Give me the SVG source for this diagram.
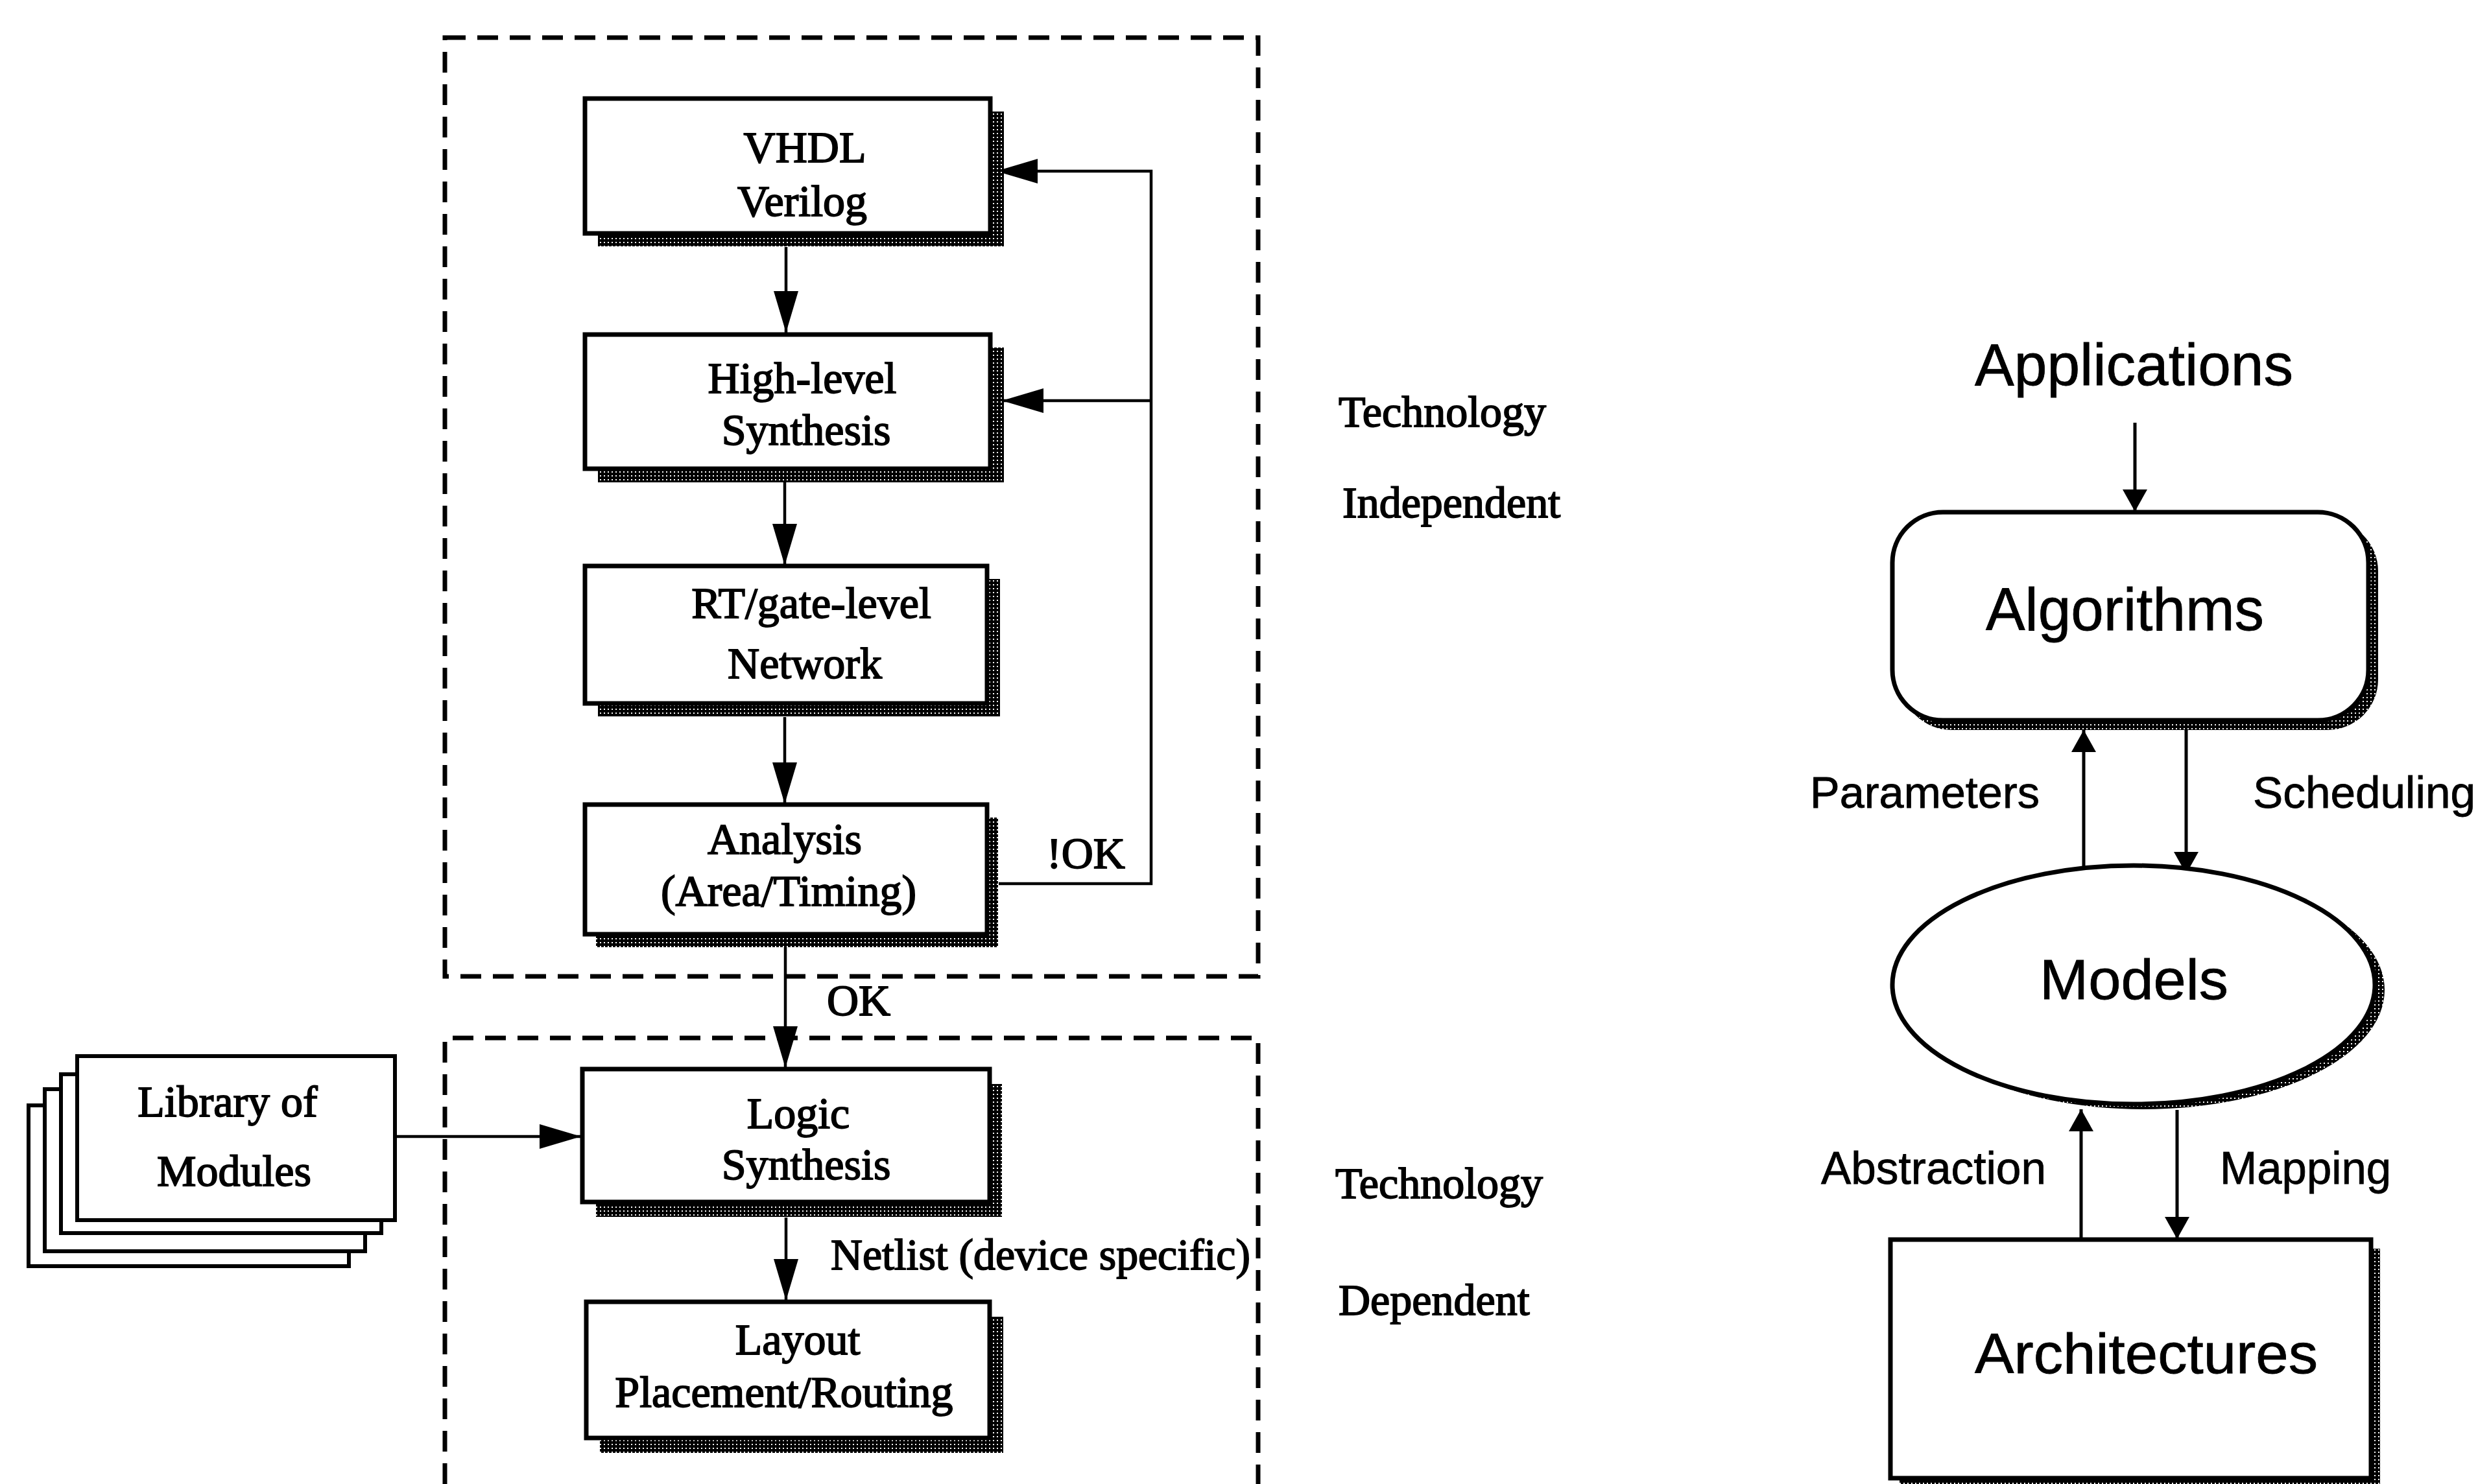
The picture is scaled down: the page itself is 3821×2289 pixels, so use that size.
<svg xmlns="http://www.w3.org/2000/svg" width="3821" height="2289" viewBox="0 0 3821 2289">
<style>
.bg{fill:#fff}
.box{fill:#fff;stroke:#000;stroke-width:7}
.shadow{fill:url(#chk)}
.dash{fill:none;stroke:#000;stroke-width:7;stroke-dasharray:32 18}
.con{fill:none;stroke:#000;stroke-width:4.5}
.rcon{fill:none;stroke:#000;stroke-width:5}
.serif{font-family:"Liberation Serif","Times New Roman",serif;font-size:68px;fill:#000;stroke:#000;stroke-width:1.8}
.sans{font-family:"Liberation Sans",Arial,sans-serif;fill:#000;stroke:#000;stroke-width:0.8}
.mid{text-anchor:middle}
</style>
<defs>
<pattern id="chk" width="6" height="6" patternUnits="userSpaceOnUse">
<rect width="6" height="6" fill="#000"/>
<rect x="1" y="1" width="2" height="2" fill="#fff"/>
</pattern>
<marker id="arrL" markerUnits="userSpaceOnUse" markerWidth="66" markerHeight="40" refX="64" refY="20" orient="auto">
<path d="M0,1 L64,20 L0,39 z" fill="#000"/>
</marker>
<marker id="arrR" markerUnits="userSpaceOnUse" markerWidth="36" markerHeight="40" refX="34" refY="20" orient="auto">
<path d="M0,1 L34,20 L0,39 z" fill="#000"/>
</marker>
</defs>
<rect class="bg" x="0" y="0" width="3821" height="2289"/>

<g id="region-independent">
<rect class="dash" x="686" y="58" width="1254" height="1448"/>
</g>
<g id="region-dependent">
<path class="dash" d="M686,2289 V1601 H1940 V2289"/>
</g>

<g id="connectors">
<line class="con" x1="1212" y1="381" x2="1212" y2="513" marker-end="url(#arrL)"/>
<line class="con" x1="1210" y1="744" x2="1210" y2="872" marker-end="url(#arrL)"/>
<line class="con" x1="1210" y1="1106" x2="1210" y2="1240" marker-end="url(#arrL)"/>
<line class="con" x1="1211" y1="1460" x2="1211" y2="1647" marker-end="url(#arrL)"/>
<line class="con" x1="1212" y1="1878" x2="1212" y2="2006" marker-end="url(#arrL)"/>
<line class="con" x1="609" y1="1753" x2="896" y2="1753" marker-end="url(#arrL)"/>
<polyline class="con" points="1540,1363 1775,1363 1775,264 1536,264" marker-end="url(#arrL)"/>
<line class="con" x1="1775" y1="618" x2="1545" y2="618" marker-end="url(#arrL)"/>
<line class="rcon" x1="3292" y1="652" x2="3292" y2="789" marker-end="url(#arrR)"/>
<line class="rcon" x1="3213" y1="1345" x2="3213" y2="1126" marker-end="url(#arrR)"/>
<line class="rcon" x1="3371" y1="1126" x2="3371" y2="1348" marker-end="url(#arrR)"/>
<line class="rcon" x1="3209" y1="1912" x2="3209" y2="1711" marker-end="url(#arrR)"/>
<line class="rcon" x1="3357" y1="1712" x2="3357" y2="1911" marker-end="url(#arrR)"/>
</g>

<g id="node-vhdl">
<rect class="shadow" x="922" y="172" width="626" height="208"/>
<rect class="box" x="902" y="152" width="625" height="208"/>
<text class="serif mid" x="1241" y="250">VHDL</text>
<text class="serif mid" x="1237" y="333">Verilog</text>
</g>
<g id="node-highlevel">
<rect class="shadow" x="922" y="536" width="626" height="208"/>
<rect class="box" x="902" y="516" width="625" height="207"/>
<text class="serif mid" x="1237" y="606">High-level</text>
<text class="serif mid" x="1243" y="686">Synthesis</text>
</g>
<g id="node-rtgate">
<rect class="shadow" x="922" y="893" width="620" height="212"/>
<rect class="box" x="902" y="873" width="620" height="212"/>
<text class="serif mid" x="1251" y="953">RT/gate-level</text>
<text class="serif mid" x="1241" y="1046">Network</text>
</g>
<g id="node-analysis">
<rect class="shadow" x="919" y="1261" width="620" height="200"/>
<rect class="box" x="902" y="1241" width="620" height="200"/>
<text class="serif mid" x="1210" y="1317">Analysis</text>
<text class="serif mid" x="1216" y="1397">(Area/Timing)</text>
</g>
<g id="node-logic">
<rect class="shadow" x="919" y="1672" width="626" height="205"/>
<rect class="box" x="898" y="1649" width="628" height="205"/>
<text class="serif mid" x="1231" y="1740">Logic</text>
<text class="serif mid" x="1243" y="1819">Synthesis</text>
</g>
<g id="node-layout">
<rect class="shadow" x="925" y="2031" width="622" height="210"/>
<rect class="box" x="904" y="2008" width="622" height="210"/>
<text class="serif mid" x="1230" y="2089">Layout</text>
<text class="serif mid" x="1209" y="2170">Placement/Routing</text>
</g>
<g id="node-library">
<rect class="box" x="44" y="1705" width="494" height="248" style="stroke-width:6"/>
<rect class="box" x="69" y="1680" width="494" height="250" style="stroke-width:6"/>
<rect class="box" x="94" y="1657" width="494" height="245" style="stroke-width:6"/>
<rect class="box" x="119" y="1629" width="490" height="253" style="stroke-width:6"/>
<text class="serif mid" x="351" y="1722">Library of</text>
<text class="serif mid" x="361" y="1829">Modules</text>
</g>

<g id="labels-left">
<text class="serif" x="1614" y="1339">!OK</text>
<text class="serif" x="1275" y="1566">OK</text>
<text class="serif" x="1281" y="1958" textLength="647" lengthAdjust="spacingAndGlyphs">Netlist (device specific)</text>
<text class="serif" x="2064" y="658">Technology</text>
<text class="serif" x="2070" y="798">Independent</text>
<text class="serif" x="2059" y="1848">Technology</text>
<text class="serif" x="2064" y="2028">Dependent</text>
</g>

<g id="node-applications">
<text class="sans" x="3045" y="594" font-size="90" textLength="491" lengthAdjust="spacingAndGlyphs">Applications</text>
</g>
<g id="node-algorithms">
<rect x="2931" y="803" width="736" height="323" rx="78" ry="78" fill="url(#chk)"/>
<rect x="2918" y="790" width="734" height="321" rx="78" ry="78" fill="#fff" stroke="#000" stroke-width="7"/>
<text class="sans" x="3062" y="972" font-size="92" textLength="429" lengthAdjust="spacingAndGlyphs">Algorithms</text>
</g>
<g id="node-models">
<ellipse cx="3305" cy="1527" rx="372" ry="184" fill="url(#chk)"/>
<ellipse cx="3290" cy="1519" rx="372" ry="184" fill="#fff" stroke="#000" stroke-width="7"/>
<text class="sans" x="3145" y="1541" font-size="88" textLength="291" lengthAdjust="spacingAndGlyphs">Models</text>
</g>
<g id="node-architectures">
<rect x="2929" y="1926" width="741" height="380" fill="url(#chk)"/>
<rect x="2915" y="1912" width="741" height="368" fill="#fff" stroke="#000" stroke-width="7"/>
<text class="sans" x="3045" y="2118" font-size="88" textLength="529" lengthAdjust="spacingAndGlyphs">Architectures</text>
</g>
<g id="labels-right">
<text class="sans" x="2791" y="1246" font-size="68" textLength="354" lengthAdjust="spacingAndGlyphs">Parameters</text>
<text class="sans" x="3474" y="1246" font-size="68" textLength="343" lengthAdjust="spacingAndGlyphs">Scheduling</text>
<text class="sans" x="2808" y="1826" font-size="70" textLength="347" lengthAdjust="spacingAndGlyphs">Abstraction</text>
<text class="sans" x="3423" y="1826" font-size="70" textLength="264" lengthAdjust="spacingAndGlyphs">Mapping</text>
</g>
</svg>
